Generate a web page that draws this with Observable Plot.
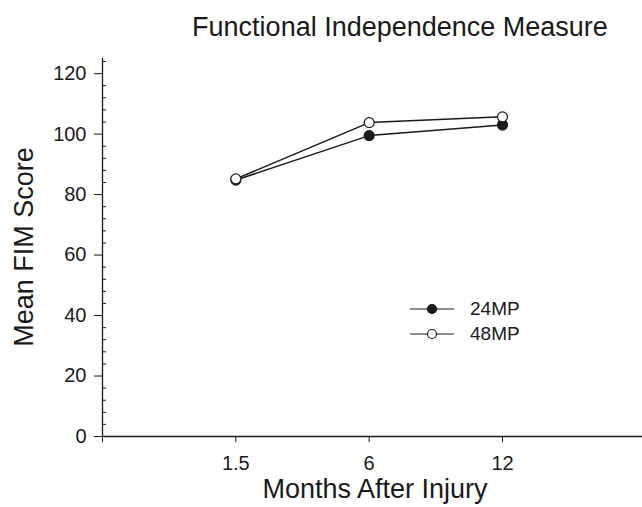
<!DOCTYPE html>
<html>
<head>
<meta charset="utf-8">
<script src="https://cdn.jsdelivr.net/npm/d3@7"></script>
<script src="https://cdn.jsdelivr.net/npm/@observablehq/plot@0.6"></script>
<style>
  html, body { margin: 0; padding: 0; background: #fff; }
  #wrap { position: relative; width: 642px; height: 507px; overflow: hidden; font-family: "Liberation Sans", Arial, sans-serif; color: #1a1a1a; }
  #title { position: absolute; left: 150px; width: 500px; top: 14px; text-align: center; font-size: 27px; line-height: 1; }
  #chart { position: absolute; left: 0; top: 50px; }
  #ylab { position: absolute; left: 24px; top: 247px; transform: translate(-50%, -50%) rotate(-90deg); font-size: 27px; line-height: 1; white-space: nowrap; }
  #xlab { position: absolute; left: 375px; top: 475px; transform: translateX(-50%); font-size: 27px; line-height: 1.1; white-space: nowrap; }
  #legend { position: absolute; left: 408px; top: 296px; font-size: 19px; }
  #legend div { display: flex; align-items: center; height: 25px; }
  #legend svg { margin-right: 14px; }
</style>
</head>
<body>
<div id="wrap">
  <div id="title">Functional Independence Measure</div>
  <div id="chart"></div>
  <div id="ylab">Mean FIM Score</div>
  <div id="xlab">Months After Injury</div>
  <div id="legend"></div>
</div>
<script>
const months = ["1.5", "6", "12"];
const series = ["24MP", "48MP"];
const values24MP = [84.8, 99.5, 103.0];
const values48MP = [85.2, 103.8, 105.7];
const yTicks = [0, 20, 40, 60, 80, 100, 120];

const fills = {"24MP": "#1a1a1a", "48MP": "#ffffff"};
const data = [];
months.forEach((m, i) => {
  data.push({month: m, idx: i + 1, series: "24MP", value: values24MP[i]});
  data.push({month: m, idx: i + 1, series: "48MP", value: values48MP[i]});
});
const minorTicks = d3.range(0, 125, 4).filter(d => d % 20 !== 0);

const plot = Plot.plot({
  width: 642,
  height: 457,
  marginLeft: 102,
  marginRight: 0,
  marginTop: 8,
  marginBottom: 71,
  style: {fontFamily: '"Liberation Sans", Arial, sans-serif', fontSize: "20px", color: "#1a1a1a", background: "#fff"},
  x: {domain: [0, 4.05]},
  y: {domain: [0, 125]},
  marks: [
    Plot.axisY({ticks: yTicks, tickSize: 8, tickPadding: 8, label: null, fontSize: 20}),
    Plot.axisY({ticks: minorTicks, tickSize: 4, dx: 4, tickFormat: () => "", label: null}),
    Plot.axisX({ticks: [0, 1, 2, 3], tickSize: 6, tickPadding: 13, label: null, fontSize: 20,
      tickFormat: d => months[d - 1] ?? ""}),
    Plot.ruleY([0], {stroke: "#1a1a1a", strokeWidth: 1.3}),
    Plot.ruleX([0], {stroke: "#1a1a1a", strokeWidth: 1.3}),
    Plot.line(data, {x: "idx", y: "value", z: "series", stroke: "#1a1a1a", strokeWidth: 1.5}),
    Plot.dot(data.filter(d => d.series === "24MP"), {x: "idx", y: "value", r: 5, fill: fills["24MP"], stroke: "#1a1a1a", strokeWidth: 1.2}),
    Plot.dot(data.filter(d => d.series === "48MP"), {x: "idx", y: "value", r: 5, fill: fills["48MP"], stroke: "#1a1a1a", strokeWidth: 1.2})
  ]
});
document.getElementById("chart").appendChild(plot);

const legend = document.getElementById("legend");
series.forEach(s => {
  const row = document.createElement("div");
  row.innerHTML = `<svg width="48" height="14"><line x1="2" x2="46" y1="7" y2="7" stroke="#1a1a1a" stroke-width="1"/><circle cx="24" cy="7" r="4.5" fill="${fills[s]}" stroke="#1a1a1a" stroke-width="1.2"/></svg><span>${s}</span>`;
  legend.appendChild(row);
});
</script>
</body>
</html>
